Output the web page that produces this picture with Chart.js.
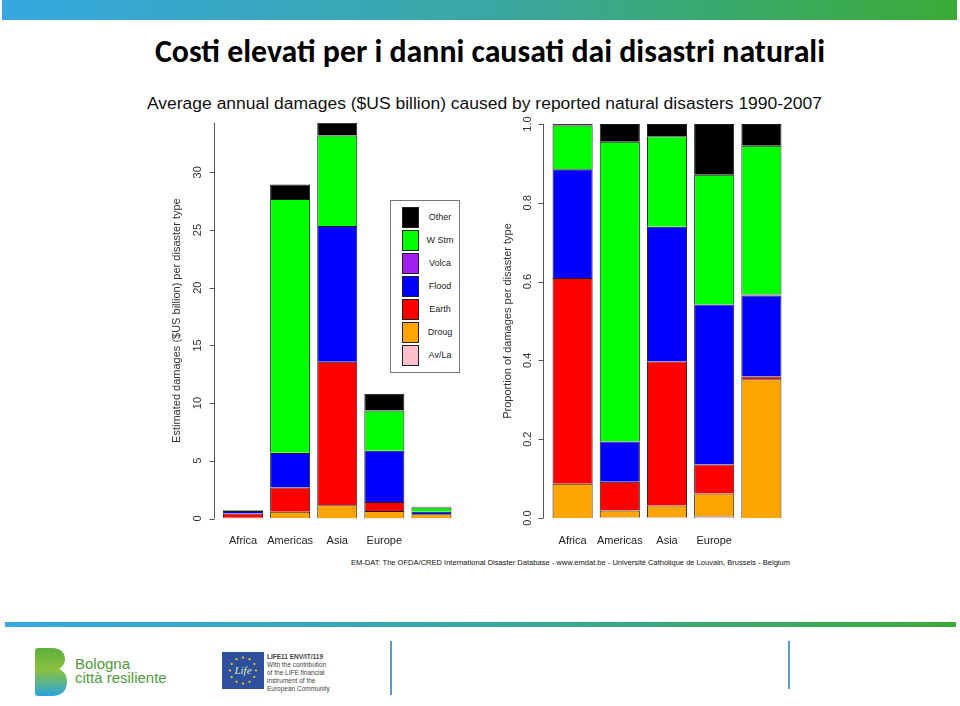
<!DOCTYPE html>
<html lang="it">
<head>
<meta charset="utf-8">
<title>Costi elevati per i danni causati dai disastri naturali</title>
<script src="https://cdn.jsdelivr.net/npm/chart.js@4.4.1/dist/chart.umd.min.js"></script>
<style>
  html, body { margin: 0; padding: 0; background: #fff; }
  body { width: 960px; height: 706px; position: relative; overflow: hidden; font-family: 'Liberation Sans', Arial, sans-serif; }
  .band { position: absolute; background: linear-gradient(to right, #35a8e0, #3aa7a4 50%, #3aab36); }
  #topBand { left: 2px; top: 0; width: 955px; height: 20px; }
  #bottomBand { left: 5px; top: 622px; width: 951px; height: 5px; }
  .fit { position: absolute; white-space: nowrap; transform-origin: 0 0; }
  #slideTitle { left: 155px; top: 32px; font: bold 32px Carlito, Lato, sans-serif; line-height: 40px; color: #000; }
  #chartTitle { left: 147px; top: 95px; font-size: 16px; line-height: 18px; color: #111; }
  #source { left: 351px; top: 558px; font-size: 8px; line-height: 10px; color: #111; }
  .chartBox { position: absolute; top: 115px; width: 310px; height: 440px; }
  #leftBox { left: 160px; }
  #rightBox { left: 490px; }
  #legend { position: absolute; left: 390px; top: 200px; width: 68px; height: 171px; border: 1px solid #777; background: #fff; }
  #legend .sw { position: absolute; left: 11px; width: 17px; height: 21px; border: 1px solid #222; box-sizing: border-box; }
  #legend .lb { position: absolute; left: 30px; width: 38px; text-align: center; font-size: 9px; line-height: 21px; color: #222; }
  #bologna { position: absolute; left: 35px; top: 648px; }
  #bolognaText { position: absolute; left: 75px; top: 657px; font-size: 15px; line-height: 13.5px; color: #4e9b3a; }
  #lifeLogo { position: absolute; left: 222px; top: 652px; }
  #lifeText { position: absolute; left: 267px; top: 653px; font-size: 6.5px; line-height: 8px; color: #444; }
  .vline { position: absolute; width: 1.5px; background: #5b9bd5; }
</style>
</head>
<body>
<div id="topBand" class="band"></div>
<div id="slideTitle" class="fit">Costi elevati per i danni causati dai disastri naturali</div>
<div id="chartTitle" class="fit">Average annual damages ($US billion) caused by reported natural disasters 1990-2007</div>

<div id="leftBox" class="chartBox"><canvas id="absChart" width="310" height="440"></canvas></div>
<div id="rightBox" class="chartBox"><canvas id="propChart" width="310" height="440"></canvas></div>
<div id="legend"></div>

<div id="source" class="fit">EM-DAT: The OFDA/CRED International Disaster Database - www.emdat.be - Université Catholique de Louvain, Brussels - Belgium</div>

<div id="bottomBand" class="band"></div>

<svg id="bologna" width="32" height="48" viewBox="0 0 32 48">
  <defs>
    <linearGradient id="bg" x1="0" y1="0" x2="0" y2="1">
      <stop offset="0" stop-color="#5cae3c"/>
      <stop offset="0.45" stop-color="#8cc23f"/>
      <stop offset="1" stop-color="#2aa3dc"/>
    </linearGradient>
  </defs>
  <path d="M3 0 H17 C26 0 30 5 30 11 C30 16 27 19 24 21 C29 23 32 27 32 34 C32 43 26 48 17 48 H3 C1 48 0 47 0 45 V3 C0 1 1 0 3 0 Z" fill="url(#bg)"/>
</svg>
<div id="bolognaText">Bologna<br>città resiliente</div>

<svg id="lifeLogo" width="42" height="37" viewBox="0 0 42 37">
  <rect width="42" height="37" fill="#2e4f9d"/>
  <g fill="#ffd700">
    <circle cx="21" cy="5.5" r="1.1"/><circle cx="27.5" cy="7.2" r="1.1"/><circle cx="32.3" cy="12" r="1.1"/>
    <circle cx="34" cy="18.5" r="1.1"/><circle cx="32.3" cy="25" r="1.1"/><circle cx="27.5" cy="29.8" r="1.1"/>
    <circle cx="21" cy="31.5" r="1.1"/><circle cx="14.5" cy="29.8" r="1.1"/><circle cx="9.7" cy="25" r="1.1"/>
    <circle cx="8" cy="18.5" r="1.1"/><circle cx="9.7" cy="12" r="1.1"/><circle cx="14.5" cy="7.2" r="1.1"/>
  </g>
  <text x="21" y="22" text-anchor="middle" font-family="Liberation Serif, serif" font-style="italic" font-size="11" fill="#d8ecb0">Life</text>
</svg>
<div id="lifeText"><b>LIFE11 ENV/IT/119</b><br>With the contribution<br>of the LIFE financial<br>instrument of the<br>European Community</div>

<div class="vline" style="left:390px; top:641px; height:54px;"></div>
<div class="vline" style="left:788px; top:641px; height:48px;"></div>

<script>
// regions (the fifth bar has no label in the original)
const regions = ['Africa', 'Americas', 'Asia', 'Europe', ''];
// disaster types, bottom of the stack first
const hazards = ['Av/La', 'Droug', 'Earth', 'Flood', 'Volca', 'W Stm', 'Other'];
const hazardColors = ['#ffc0cb', '#ffa500', '#ff0000', '#0000ff', '#a020f0', '#00ff00', '#000000'];

// average annual damages, $US billion
const damAvLa  = [0,     0.03, 0.04,  0.04, 0];
const damDroug = [0.06,  0.55, 1.1,   0.6,  0.36];
const damEarth = [0.38,  2.1,  12.45, 0.78, 0.007];
const damFlood = [0.2,   3.0,  11.75, 4.45, 0.21];
const damVolca = [0,     0.01, 0.01,  0,    0.002];
const damWStm  = [0.08,  22.0, 7.85,  3.5,  0.38];
const damOther = [0.003, 1.25, 1.1,   1.45, 0.055];

// proportion of damages per disaster type
const propAvLa  = [0,     0.001, 0.001, 0.004, 0];
const propDroug = [0.087, 0.018, 0.031, 0.058, 0.352];
const propEarth = [0.522, 0.073, 0.365, 0.074, 0.007];
const propFlood = [0.276, 0.102, 0.342, 0.406, 0.206];
const propVolca = [0,     0,     0,     0,     0.002];
const propWStm  = [0.111, 0.761, 0.230, 0.329, 0.378];
const propOther = [0.004, 0.045, 0.031, 0.129, 0.055];

const absTicks = [0, 5, 10, 15, 20, 25, 30];
const absTickLabels = ['0', '5', '10', '15', '20', '25', '30'];
const propTicks = [0, 0.2, 0.4, 0.6, 0.8, 1.0];
const propTickLabels = ['0.0', '0.2', '0.4', '0.6', '0.8', '1.0'];

const absSeries = [damAvLa, damDroug, damEarth, damFlood, damVolca, damWStm, damOther];
const propSeries = [propAvLa, propDroug, propEarth, propFlood, propVolca, propWStm, propOther];

const fontFamily = "'Liberation Sans', Arial, sans-serif";

// R style axis: line set a little left of the bars, short outward ticks
const rAxis = {
  id: 'rAxis',
  afterDraw(chart, args, opts) {
    const { ctx, chartArea } = chart;
    const y = chart.scales.y;
    const x = Math.round(chartArea.left - opts.gap) + 0.5;
    ctx.save();
    ctx.strokeStyle = '#555';
    ctx.lineWidth = 1;
    ctx.beginPath();
    ctx.moveTo(x, chartArea.bottom);
    ctx.lineTo(x, chartArea.top);
    y.ticks.forEach((t) => {
      const py = Math.round(y.getPixelForValue(t.value)) + 0.5;
      ctx.moveTo(x, py);
      ctx.lineTo(x - 5, py);
    });
    ctx.stroke();
    ctx.restore();
  },
};

const makeChart = (id, series, opts) => {
  return new Chart(document.getElementById(id), {
    type: 'bar',
    data: {
      labels: regions,
      datasets: hazards.map((h, i) => ({
        label: h,
        data: series[i],
        backgroundColor: hazardColors[i],
        borderColor: '#1a1a1a',
        borderWidth: 1,
        borderSkipped: 'start',
        barPercentage: 0.85,
        categoryPercentage: 1,
      })),
    },
    options: {
      responsive: false,
      animation: false,
      events: [],
      layout: { padding: { top: opts.top, right: 15, left: 0, bottom: 0 } },
      plugins: {
        legend: { display: false },
        tooltip: { enabled: false },
        rAxis: { gap: opts.gap },
      },
      scales: {
        x: {
          stacked: true,
          grid: { display: false, drawTicks: false },
          border: { display: false },
          ticks: { color: '#222', font: { family: fontFamily, size: 11 }, padding: 16, maxRotation: 0, autoSkip: false },
          afterFit: (s) => { s.height = opts.xHeight; s.paddingLeft = 0; s.paddingRight = 0; },
        },
        y: {
          stacked: true,
          min: 0,
          max: opts.max,
          grid: { display: false, drawTicks: false },
          border: { display: false },
          afterBuildTicks: (s) => { s.ticks = opts.ticks.map((v) => ({ value: v })); },
          ticks: {
            minRotation: 90,
            maxRotation: 90,
            crossAlign: 'center',
            padding: opts.tickPad,
            color: '#333',
            font: { family: fontFamily, size: 11 },
            callback: (v, i) => opts.tickLabels[i],
          },
          title: {
            display: true,
            text: opts.title,
            color: '#333',
            font: { family: fontFamily, size: 11 },
            padding: { top: opts.titlePad, bottom: 0 },
          },
          afterFit: (s) => { s.width = opts.yWidth; s.paddingTop = 0; s.paddingBottom = 0; },
        },
      },
    },
    plugins: [rAxis],
  });
};

makeChart('absChart', absSeries, {
  max: 34.3, ticks: absTicks, tickLabels: absTickLabels,
  title: 'Estimated damages ($US billion) per disaster type',
  top: 7.7, xHeight: 36.5, yWidth: 59.5, gap: 6, tickPad: 15, titlePad: 10.4,
});

makeChart('propChart', propSeries, {
  max: 1, ticks: propTicks, tickLabels: propTickLabels,
  title: 'Proportion of damages per disaster type',
  top: 9, xHeight: 37, yWidth: 59, gap: 6, tickPad: 13, titlePad: 11.4,
});

// legend, top to bottom like the original
const legend = document.getElementById('legend');
hazards.slice().reverse().forEach((h, i) => {
  const idx = hazards.length - 1 - i;
  const sw = document.createElement('div');
  sw.className = 'sw';
  sw.style.top = (6 + i * 23) + 'px';
  sw.style.background = hazardColors[idx];
  const lb = document.createElement('div');
  lb.className = 'lb';
  lb.style.top = (6 + i * 23) + 'px';
  lb.textContent = h;
  legend.append(sw, lb);
});

// squeeze text to the widths seen in the slide
const fitWidth = (id, w) => {
  const el = document.getElementById(id);
  const r = el.getBoundingClientRect().width;
  el.style.transform = 'scaleX(' + (w / r) + ')';
};
fitWidth('slideTitle', 670);
fitWidth('chartTitle', 675);
fitWidth('source', 439);
</script>
</body>
</html>
